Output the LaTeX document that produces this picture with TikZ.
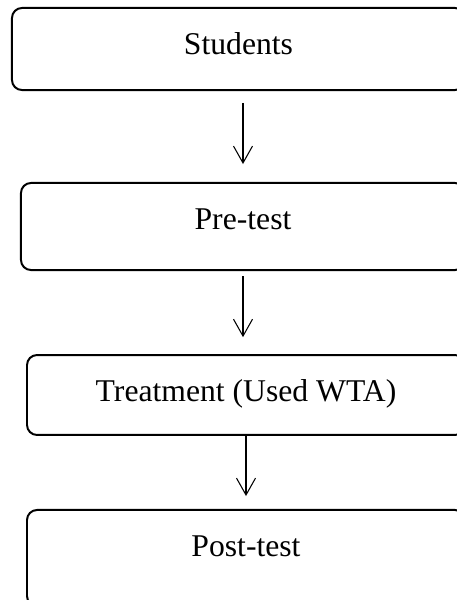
\documentclass[tikz,border=0pt]{standalone}
\usepackage{fontspec}
\setmainfont{Liberation Serif}
\usetikzlibrary{arrows.meta}

\begin{document}
\begin{tikzpicture}[
                x = 0.379pt, y = -0.379pt, % picture in pixels of the scan
                > = {Straight Barb[length=6.4pt, width=7.2pt]}, % open arrow head
                font = \fontsize{12}{14}\selectfont
            ]

            \tikzstyle{box}=[draw = black, rectangle, rounded corners = 3.8pt,
            line width = 0.75pt, inner xsep = 0pt, inner ysep = 9.5pt,
            text height = 8pt]
            \tikzstyle{flow}=[->, line width = 0.4pt]

            \clip (0,0) rectangle (457,600);

            \node (students) [box, minimum width = 171.7pt, text depth = 4.1pt]
            at (238.5,49) {Students};
            \node (pretest) [box, minimum width = 168.3pt, text depth = 6pt]
            at (243,226.5) {Pre-test};
            \node (treatment) [box, minimum width = 166pt, text depth = 3.3pt]
            at (246,395) {Treatment (Used WTA)};
            \node (posttest) [box, minimum width = 166pt, text depth = 9.4pt]
            at (246,558) {Post-test};

            \draw[flow, shorten < = 4.5pt, shorten > = 6.8pt]
            (pretest.north |- students.south) -- (pretest.north);
            \draw[flow, shorten < = 1.9pt, shorten > = 6.4pt]
            (pretest.south) -- (pretest.south |- treatment.north);
            \draw[flow, shorten > = 4.9pt]
            (treatment.south) -- (treatment.south |- posttest.north);

        \end{tikzpicture}
\end{document}
